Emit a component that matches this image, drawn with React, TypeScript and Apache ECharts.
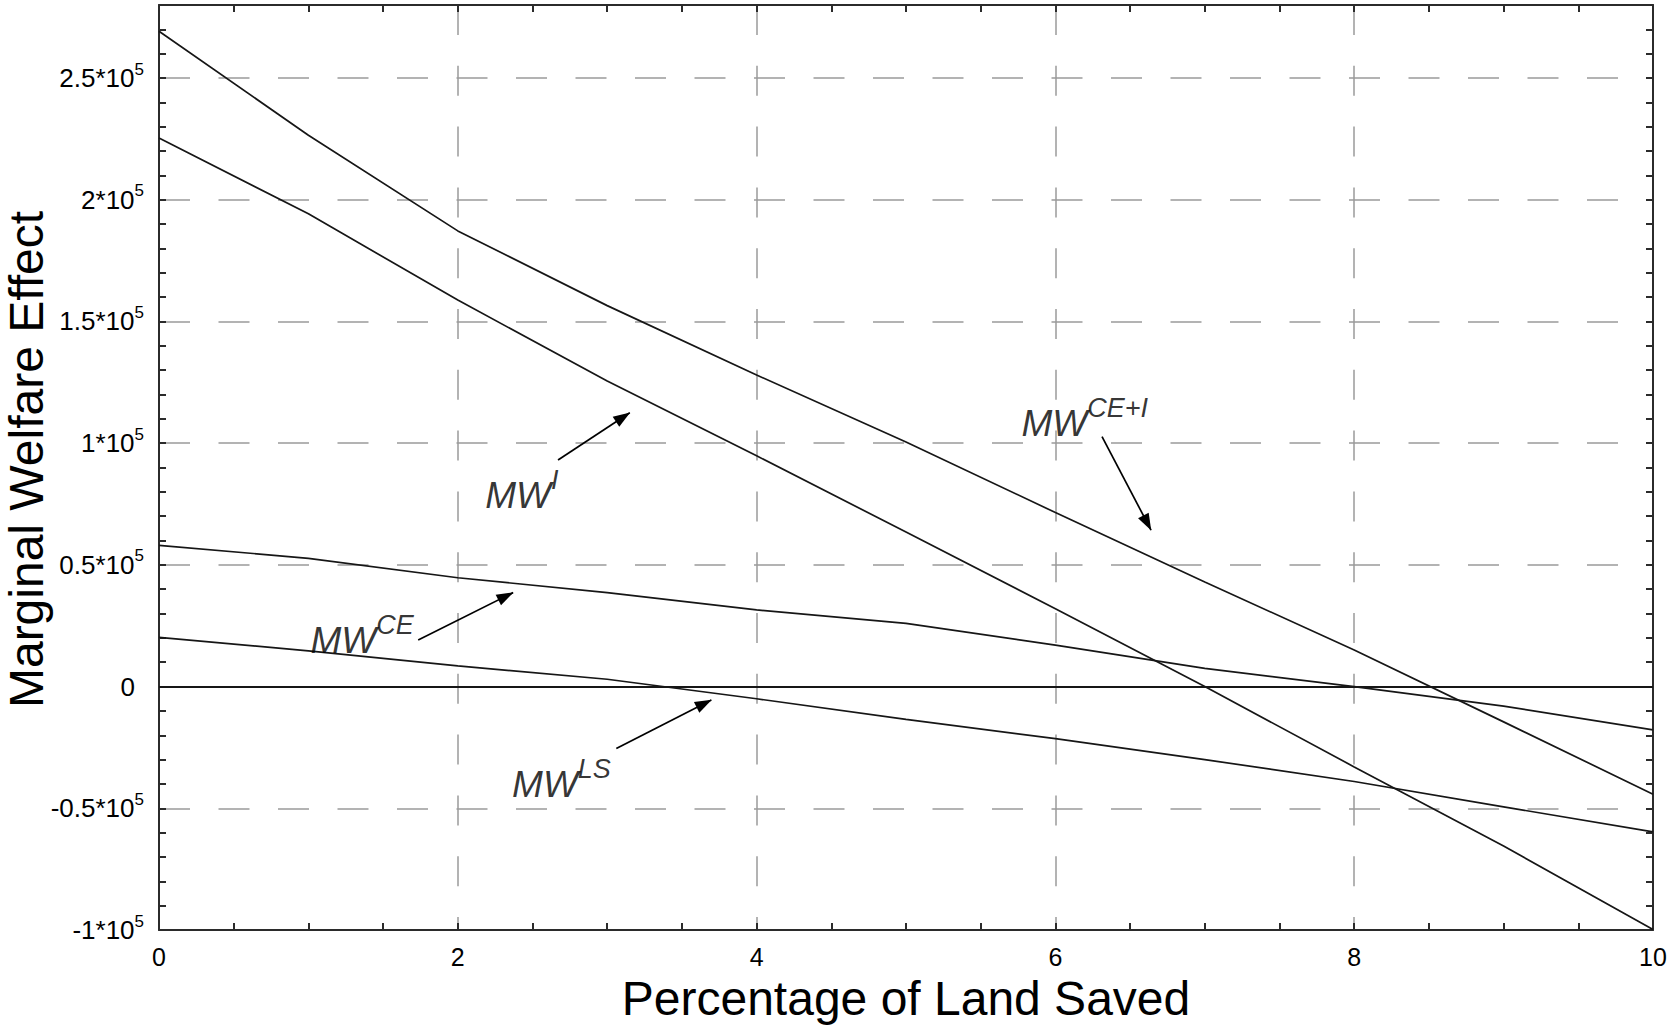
import React, { useEffect, useRef } from "react";
import * as echarts from "echarts";

// ---- data ----
const xValues = [0, 1, 2, 3, 4, 5, 6, 7, 8, 9, 10];
const mwCEI = [269200, 226500, 187200, 156500, 128000, 100500, 71500, 43000, 15000, -14500, -44200];
const mwI = [225400, 194200, 158800, 125500, 94800, 63500, 32000, 0, -33000, -65500, -99800];
const mwCE = [58000, 52700, 44700, 38600, 31500, 26000, 17000, 7500, 0, -8000, -17800];
const mwLS = [20200, 14700, 8500, 3000, -5000, -13500, -21400, -30000, -39000, -49400, -59700];

const xTickLabels = [0, 2, 4, 6, 8, 10];
const yLabelStep = 50000;

// annotation labels (superscripts) and their anchor points in data units
const annNames = ["I", "CE", "LS", "CE+I"];
const annX = [2.18, 1.01, 2.36, 5.77];
const annY = [78300, 18900, -40100, 107900];
// arrows: from -> to (data units)
const arrowFromX = [2.671, 1.735, 3.061, 6.312];
const arrowFromY = [93100, 19100, -25400, 102700];
const arrowToX = [3.151, 2.37, 3.697, 6.64];
const arrowToY = [112500, 38600, -5500, 64300];

const FONT = "'Liberation Sans', Arial, Helvetica, sans-serif";
const AXIS_COLOR = "#2b2b2b";
const LINE_COLOR = "#161616";
const GRID_COLOR = "#9a9a9a";

export default function App() {
  const ref = useRef<HTMLDivElement>(null);

  useEffect(() => {
    if (!ref.current) return;
    const chart = echarts.init(ref.current, undefined, { renderer: "svg" });

    const toPairs = (ys: number[]) => xValues.map((x, i) => [x, ys[i]]);

    const axisLine = { show: true, onZero: false, lineStyle: { color: AXIS_COLOR, width: 2 } };
    const axisTick = { show: true, inside: true, length: 7, lineStyle: { color: AXIS_COLOR, width: 2 } };

    const lineSeries = (name: string, ys: number[], extra: any = {}) => ({
      type: "line",
      name,
      data: toPairs(ys),
      xAxisIndex: 0,
      yAxisIndex: 0,
      showSymbol: false,
      symbol: "none",
      silent: true,
      lineStyle: { color: LINE_COLOR, width: 1.7 },
      z: 3,
      ...extra,
    });

    const option: any = {
      animation: false,
      backgroundColor: "#ffffff",
      grid: {
        left: 159,
        right: 16,
        top: 5,
        bottom: 99,
        containLabel: false,
        outerBoundsMode: "none",
      },
      xAxis: [
        {
          type: "value",
          min: 0,
          max: 10,
          interval: 0.5,
          position: "bottom",
          axisLine,
          axisTick,
          splitLine: { show: false },
          axisLabel: {
            margin: 14,
            fontSize: 25,
            color: "#000",
            fontFamily: FONT,
            formatter: (v: number) => (xTickLabels.indexOf(v) >= 0 ? String(v) : ""),
          },
          name: "Percentage of Land Saved",
          nameLocation: "middle",
          nameGap: 44,
          nameMoveOverlap: false,
          nameTextStyle: { fontSize: 48, color: "#000", fontFamily: FONT },
        },
        {
          type: "value",
          min: 0,
          max: 10,
          interval: 0.5,
          position: "top",
          axisLine,
          axisTick,
          axisLabel: { show: false },
          splitLine: { show: false },
        },
        {
          type: "value",
          min: 0,
          max: 10,
          interval: 2,
          position: "bottom",
          axisLine: { show: false, onZero: false },
          axisTick: { show: false },
          axisLabel: { show: false },
          splitLine: {
            show: true,
            showMinLine: false,
            showMaxLine: false,
            lineStyle: { color: GRID_COLOR, width: 1.5, type: [30, 30.8] },
          },
        },
      ],
      yAxis: [
        {
          type: "value",
          min: -100000,
          max: 280000,
          interval: 10000,
          position: "left",
          axisLine,
          axisTick,
          splitLine: { show: false },
          axisLabel: {
            margin: 15,
            color: "#000",
            fontFamily: FONT,
            formatter: (v: number) => {
              if (Math.abs(v % yLabelStep) > 1e-6) return "";
              if (v === 0) return "{a|0}{p| }";
              return "{a|" + String(v / 100000) + "*10}{s|5}";
            },
            rich: {
              a: { fontSize: 26, lineHeight: 35, fontFamily: FONT, color: "#000" },
              s: { fontSize: 17, lineHeight: 17, verticalAlign: "top", fontFamily: FONT, color: "#000" },
              p: { fontSize: 17, width: 9, lineHeight: 17 },
            },
          },
          name: "Marginal Welfare Effect",
          nameLocation: "middle",
          nameGap: 109,
          nameMoveOverlap: false,
          nameTextStyle: {
            fontSize: 48,
            color: "#000",
            fontFamily: FONT,
            padding: [0, 0, 0, 16],
          },
        },
        {
          type: "value",
          min: -100000,
          max: 280000,
          interval: 10000,
          position: "right",
          axisLine,
          axisTick,
          axisLabel: { show: false },
          splitLine: { show: false },
        },
        {
          type: "value",
          min: -100000,
          max: 280000,
          interval: 50000,
          position: "left",
          axisLine: { show: false, onZero: false },
          axisTick: { show: false },
          axisLabel: { show: false },
          splitLine: {
            show: true,
            showMinLine: false,
            showMaxLine: false,
            lineStyle: { color: GRID_COLOR, width: 1.5, type: [31, 28.5] },
          },
        },
      ],
      series: [
        lineSeries("MW CE+I", mwCEI, {
          markLine: {
            silent: true,
            symbol: "none",
            label: { show: false },
            lineStyle: { type: "solid", color: LINE_COLOR, width: 1.8 },
            data: [{ yAxis: 0 }],
          },
        }),
        lineSeries("MW I", mwI),
        lineSeries("MW CE", mwCE),
        lineSeries("MW LS", mwLS),
        {
          type: "scatter",
          name: "labels",
          xAxisIndex: 0,
          yAxisIndex: 0,
          silent: true,
          symbol: "circle",
          symbolSize: 1,
          itemStyle: { color: "rgba(0,0,0,0)" },
          z: 5,
          data: annX.map((x, i) => ({ value: [x, annY[i]], name: annNames[i] })),
          label: {
            show: true,
            position: "right",
            distance: 0,
            formatter: (p: any) => "{m|MW}{s|" + p.name + "}",
            rich: {
              m: { fontSize: 37, fontStyle: "italic", fontFamily: FONT, color: "#000", lineHeight: 58 },
              s: {
                fontSize: 27,
                fontStyle: "italic",
                fontFamily: FONT,
                color: "#000",
                lineHeight: 27,
                verticalAlign: "top",
              },
            },
          },
          markLine: {
            silent: true,
            symbol: ["none", "triangle"],
            symbolSize: [12, 17],
            symbolOffset: [0, [0, 8]],
            label: { show: false },
            lineStyle: { type: "solid", color: "#000", width: 1.7 },
            itemStyle: { color: "#000" },
            data: arrowFromX.map((fx, i) => [
              { coord: [fx, arrowFromY[i]] },
              { coord: [arrowToX[i], arrowToY[i]] },
            ]),
          },
        },
      ],
    };

    chart.setOption(option);
    return () => chart.dispose();
  }, []);

  return (
    <div
      ref={ref}
      style={{ position: "absolute", left: 0, top: 0, width: 1669, height: 1029, background: "#fff" }}
    />
  );
}
